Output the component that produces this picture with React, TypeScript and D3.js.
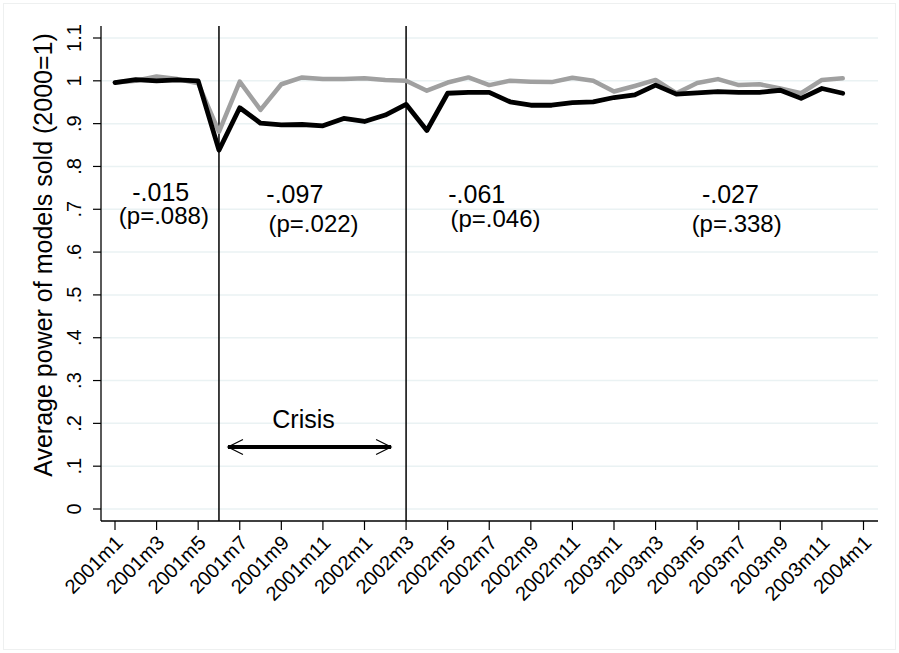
import React from "react";
import * as d3 from "d3";

const months: string[] = [
  "2001m1","2001m2","2001m3","2001m4","2001m5","2001m6","2001m7","2001m8","2001m9","2001m10","2001m11","2001m12",
  "2002m1","2002m2","2002m3","2002m4","2002m5","2002m6","2002m7","2002m8","2002m9","2002m10","2002m11","2002m12",
  "2003m1","2003m2","2003m3","2003m4","2003m5","2003m6","2003m7","2003m8","2003m9","2003m10","2003m11","2003m12",
];

const seriesBlack: number[] = [
  0.996, 1.003, 1.000, 1.002, 1.000, 0.838, 0.937, 0.901, 0.897, 0.898, 0.895, 0.912,
  0.905, 0.920, 0.945, 0.884, 0.971, 0.973, 0.973, 0.951, 0.943, 0.943, 0.949, 0.951,
  0.961, 0.967, 0.990, 0.969, 0.972, 0.975, 0.973, 0.973, 0.978, 0.959, 0.982, 0.971,
];

const seriesGray: number[] = [
  0.996, 1.000, 1.010, 1.004, 0.994, 0.881, 0.998, 0.932, 0.992, 1.008, 1.004, 1.004,
  1.006, 1.002, 1.000, 0.977, 0.996, 1.008, 0.990, 1.000, 0.998, 0.997, 1.007, 1.000,
  0.975, 0.988, 1.002, 0.971, 0.995, 1.004, 0.990, 0.992, 0.982, 0.971, 1.002, 1.006,
];

const xTickLabels: string[] = [
  "2001m1","2001m3","2001m5","2001m7","2001m9","2001m11","2002m1","2002m3","2002m5","2002m7",
  "2002m9","2002m11","2003m1","2003m3","2003m5","2003m7","2003m9","2003m11","2004m1",
];
const yTicks: number[] = [0, 0.1, 0.2, 0.3, 0.4, 0.5, 0.6, 0.7, 0.8, 0.9, 1, 1.1];
const yTickLabels: string[] = ["0", ".1", ".2", ".3", ".4", ".5", ".6", ".7", ".8", ".9", "1", "1.1"];

const breakMonths: string[] = ["2001m6", "2002m3"];

const estimates: string[] = ["-.015", "-.097", "-.061", "-.027"];
const pValues: string[] = ["(p=.088)", "(p=.022)", "(p=.046)", "(p=.338)"];
const crisisLabel = "Crisis";
const yTitle = "Average power of models sold (2000=1)";

const W = 899;
const H = 653;
const FONT = "'Liberation Sans', Arial, Helvetica, sans-serif";

export default function App() {
  const plotL = 101, plotR = 878, plotT = 26, plotB = 521;
  const x = d3.scaleLinear().domain([0, 36]).range([115, 863.5]);
  const y = d3.scaleLinear().domain([0, 1.1]).range([509, 38]);
  const monthIdx = (m: string) => {
    const [yr, mo] = m.split("m").map(Number);
    return (yr - 2001) * 12 + (mo - 1);
  };

  const line = d3
    .line<number>()
    .x((_, i) => x(i))
    .y((d) => y(d));

  // annotation placement in data-ish coordinates (month index, value)
  const estPos = [
    { m: 2.2, v: 0.72, pm: 2.35, pv: 0.665 },
    { m: 8.65, v: 0.715, pm: 9.55, pv: 0.648 },
    { m: 17.4, v: 0.715, pm: 18.3, pv: 0.659 },
    { m: 29.6, v: 0.715, pm: 29.9, pv: 0.648 },
  ];

  const crisisY = 0.145;
  const arrowX1 = x(monthIdx("2001m6")) + 9;
  const arrowX2 = x(monthIdx("2002m3")) - 15;
  const ay = y(crisisY);

  return (
    <svg
      width={W}
      height={H}
      style={{ position: "absolute", left: 0, top: 0, display: "block", background: "#fff" }}
      fontFamily={FONT}
    >
      <rect x={3.5} y={3.5} width={W - 7} height={H - 7} fill="#fff" stroke="#eef0f0" strokeWidth={1} />
      {/* gridlines */}
      {yTicks.map((t) => (
        <line key={"g" + t} x1={plotL} x2={plotR} y1={y(t)} y2={y(t)} stroke="#eaf2f3" strokeWidth={1.5} />
      ))}
      {/* y axis */}
      <line x1={plotL} x2={plotL} y1={plotT} y2={plotB} stroke="#000" strokeWidth={1.3} />
      {yTicks.map((t, i) => (
        <g key={"yt" + t}>
          <line x1={plotL - 8} x2={plotL} y1={y(t)} y2={y(t)} stroke="#000" strokeWidth={1.2} />
          <text
            transform={`translate(81,${y(t)}) rotate(-90)`}
            textAnchor="middle"
            fontSize={20}
            fill="#000"
          >
            {yTickLabels[i]}
          </text>
        </g>
      ))}
      <text
        transform={`translate(52,255) rotate(-90)`}
        textAnchor="middle"
        fontSize={25}
        fill="#000"
      >
        {yTitle}
      </text>
      {/* x axis */}
      <line x1={plotL} x2={plotR} y1={plotB} y2={plotB} stroke="#000" strokeWidth={1.3} />
      {xTickLabels.map((lab) => {
        const xi = x(monthIdx(lab));
        return (
          <g key={"xt" + lab}>
            <line x1={xi} x2={xi} y1={plotB} y2={plotB + 9} stroke="#000" strokeWidth={1.2} />
            <text
              transform={`translate(${xi + 9},${plotB + 23}) rotate(-45)`}
              textAnchor="end"
              fontSize={20}
              fill="#000"
            >
              {lab}
            </text>
          </g>
        );
      })}
      {/* vertical break lines */}
      {breakMonths.map((m) => (
        <line
          key={"v" + m}
          x1={x(monthIdx(m))}
          x2={x(monthIdx(m))}
          y1={plotT}
          y2={plotB}
          stroke="#000"
          strokeWidth={1.5}
        />
      ))}
      {/* series */}
      <path d={line(seriesGray) || ""} fill="none" stroke="#a0a0a0" strokeWidth={4.5} strokeLinejoin="round" strokeLinecap="round" />
      <path d={line(seriesBlack) || ""} fill="none" stroke="#000" strokeWidth={4.8} strokeLinejoin="round" strokeLinecap="round" />
      {/* annotations */}
      {estimates.map((e, i) => (
        <g key={"e" + i}>
          <text x={x(estPos[i].m)} y={y(estPos[i].v)} textAnchor="middle" fontSize={25} fill="#000">
            {e}
          </text>
          <text x={x(estPos[i].pm)} y={y(estPos[i].pv)} textAnchor="middle" fontSize={24} fill="#000">
            {pValues[i]}
          </text>
        </g>
      ))}
      {/* crisis arrow */}
      <text x={(arrowX1 + arrowX2) / 2 - 6} y={ay - 19} textAnchor="middle" fontSize={25} fill="#000">
        {crisisLabel}
      </text>
      <line x1={arrowX1} x2={arrowX2} y1={ay} y2={ay} stroke="#000" strokeWidth={4} />
      <path
        d={`M${arrowX1 + 15},${ay - 7.5} L${arrowX1},${ay} L${arrowX1 + 15},${ay + 7.5}`}
        fill="none"
        stroke="#000"
        strokeWidth={1.2}
      />
      <path
        d={`M${arrowX2 - 15},${ay - 7.5} L${arrowX2},${ay} L${arrowX2 - 15},${ay + 7.5}`}
        fill="none"
        stroke="#000"
        strokeWidth={1.2}
      />
    </svg>
  );
}
